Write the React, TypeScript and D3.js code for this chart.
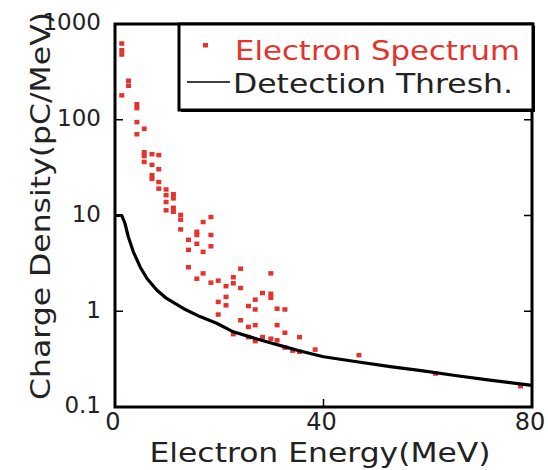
import React from "react";
import * as d3 from "d3";

const specE = [
  1.3, 1.3, 1.3, 1.3,
  2.6, 2.6,
  4.2, 4.2, 4.2, 4.2,
  5.6, 5.6, 5.6, 5.6,
  7.1, 7.1, 7.1, 7.1,
  8.4, 8.4, 8.4, 8.4,
  9.8, 9.8, 9.8, 9.8,
  11.2, 11.2, 11.2, 11.2,
  12.6, 12.6, 12.6,
  14.1, 14.1, 14.1,
  15.7, 15.7, 15.7, 15.7,
  16.9, 16.9, 16.9,
  18.4, 18.4, 18.4, 18.4,
  19.8, 19.8, 19.8,
  21.3, 21.3, 21.3,
  22.7, 22.7, 22.7,
  24.1, 24.1, 24.1,
  25.6, 25.6, 25.6,
  26.9, 26.9, 26.9, 26.9,
  28.3, 28.3,
  29.9, 29.9, 29.9, 29.9,
  31.1, 31.1, 31.1,
  32.6, 32.6, 32.6,
  34.1,
  35.4, 35.4,
  38.4,
  46.8,
  61.5,
  77.8,
];
const specV = [
  629, 535, 483, 181,
  257, 228,
  146, 133, 95, 71,
  81, 46, 42, 36.5,
  44, 34, 26.5, 24.3,
  43, 30.6, 22.5, 19.2,
  18.8, 16.4, 13.9, 11.4,
  16.8, 15.2, 12.1, 11.0,
  10.2, 9.1, 7.2,
  5.6, 4.4, 2.9,
  6.8, 6.3, 5.1, 2.2,
  8.6, 4.2, 2.5,
  9.7, 6.3, 4.8, 2.0,
  2.1, 1.26, 0.93,
  1.84, 1.42, 1.16,
  2.28, 1.97, 0.58,
  2.8, 1.76, 0.81,
  1.14, 0.69, 0.54,
  1.33, 1.05, 0.72, 0.49,
  1.56, 0.54,
  2.5, 1.53, 1.39, 0.52,
  1.07, 0.72, 0.5,
  1.05, 0.6, 0.42,
  0.39,
  0.54, 0.38,
  0.4,
  0.35,
  0.225,
  0.166,
];

const threshE = [0, 1.3, 1.9, 2.55, 3.5, 4.8, 6.1, 8.0, 9.9, 13.1, 16.3, 19.5, 22.7, 25.9, 29.1, 32.3, 35.5, 40, 46.4, 52.8, 59.1, 65.6, 71.9, 80];
const threshV = [10, 10, 8.3, 6.0, 4.2, 2.92, 2.21, 1.67, 1.36, 1.07, 0.88, 0.75, 0.61, 0.54, 0.48, 0.43, 0.385, 0.335, 0.297, 0.264, 0.238, 0.212, 0.191, 0.168];

const xTicks = [0, 40, 80];
const yTicks = [0.1, 1, 10, 100, 1000];
const yTickLabels = ["0.1", "1", "10", "100", "1000"];

const xTitle = "Electron Energy(MeV)";
const yTitle = "Charge Density(pC/MeV)";
const legendLabels = ["Electron Spectrum", "Detection Thresh."];

const RED = "#e4322c";
const FONT = "DejaVu Sans, sans-serif";

export default function App() {
  const left = 115, right = 532, top = 24, bottom = 407;
  const x = d3.scaleLinear().domain([0, 80]).range([left, right]);
  const y = d3.scaleLog().domain([0.1, 1000]).range([bottom, top]);

  const line = d3
    .line<number>()
    .x((_, i) => x(threshE[i]))
    .y((v) => y(v));

  const lx = 179, ly = 24, lw = 354, lh = 86;

  return (
    <svg width={548} height={470} style={{ position: "absolute", left: 0, top: 0, background: "#fff" }}>
      <rect x={0} y={0} width={548} height={470} fill="#fff" />
      {/* data */}
      {specE.map((e, i) => (
        <rect key={i} x={x(e) - 2.5} y={y(specV[i]) - 2} width={5} height={4.5} fill={RED} />
      ))}
      <path d={line(threshV) || ""} fill="none" stroke="#000" strokeWidth={3.2} strokeLinejoin="round" />

      {/* ticks */}
      {yTicks.slice(1, -1).map((t) => (
        <g key={"yt" + t}>
          <line x1={left} x2={left + 8} y1={y(t)} y2={y(t)} stroke="#000" strokeWidth={1.5} />
          <line x1={right} x2={right - 8} y1={y(t)} y2={y(t)} stroke="#000" strokeWidth={1.5} />
        </g>
      ))}
      {xTicks.slice(1, -1).map((t) => (
        <g key={"xt" + t}>
          <line x1={x(t)} x2={x(t)} y1={bottom} y2={bottom - 8} stroke="#000" strokeWidth={1.5} />
          <line x1={x(t)} x2={x(t)} y1={top} y2={top + 8} stroke="#000" strokeWidth={1.5} />
        </g>
      ))}

      {/* frame */}
      <rect x={left} y={top} width={right - left} height={bottom - top} fill="none" stroke="#000" strokeWidth={3} />

      {/* tick labels */}
      {yTicks.map((t, i) => (
        <text key={"yl" + t} x={101} y={y(t) - 2} dy="0.36em" textAnchor="end" fontFamily={FONT} fontSize={23} fill="#222">
          {yTickLabels[i]}
        </text>
      ))}
      {xTicks.map((t) => (
        <text key={"xl" + t} x={x(t) - 2} y={430} textAnchor="middle" fontFamily={FONT} fontSize={24} fill="#222">
          {t}
        </text>
      ))}

      {/* axis titles */}
      <text x={320} y={462} textAnchor="middle" fontFamily={FONT} fontSize={26} textLength={341} lengthAdjust="spacingAndGlyphs" fill="#222">
        {xTitle}
      </text>
      <text transform="translate(50,206) rotate(-90)" textAnchor="middle" fontFamily={FONT} fontSize={27} textLength={388} lengthAdjust="spacingAndGlyphs" fill="#222">
        {yTitle}
      </text>

      {/* legend */}
      <rect x={lx + 2} y={ly + 2} width={lw} height={lh} fill="#000" />
      <rect x={lx} y={ly} width={lw} height={lh} fill="#fff" stroke="#000" strokeWidth={3} />
      <rect x={203} y={43} width={5} height={4.5} fill={RED} />
      <text x={235} y={60} fontFamily={FONT} fontSize={27} textLength={285} lengthAdjust="spacingAndGlyphs" fill={RED}>
        {legendLabels[0]}
      </text>
      <line x1={187} x2={230} y1={82} y2={82} stroke="#000" strokeWidth={1.5} />
      <text x={233} y={93} fontFamily={FONT} fontSize={27} textLength={280} lengthAdjust="spacingAndGlyphs" fill="#222">
        {legendLabels[1]}
      </text>
    </svg>
  );
}
